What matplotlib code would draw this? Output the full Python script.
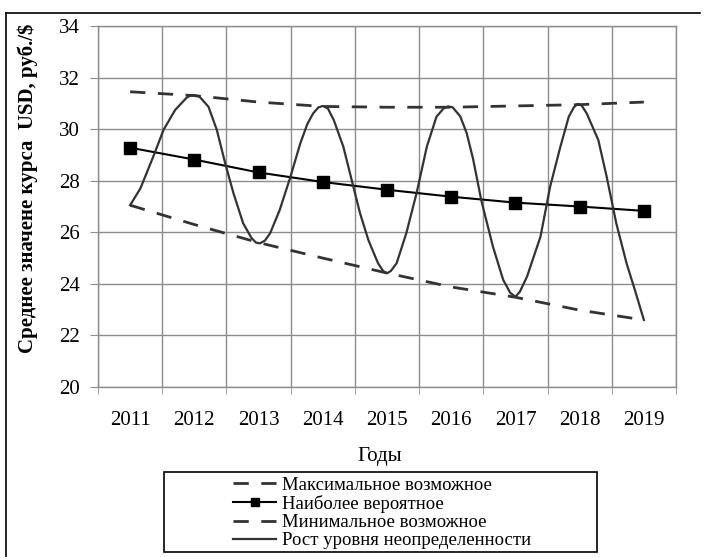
import matplotlib
matplotlib.use('Agg')
import matplotlib.pyplot as plt
from matplotlib.lines import Line2D
from matplotlib.patches import Rectangle
import numpy as np

plt.rcParams['font.family'] = ['Liberation Serif', 'DejaVu Serif']

# categories and series
years = ['2011', '2012', '2013', '2014', '2015', '2016', '2017', '2018', '2019']
max_possible = [31.45, 31.30, 31.05, 30.88, 30.85, 30.85, 30.90, 30.95, 31.05]
most_likely = [29.28, 28.82, 28.32, 27.95, 27.65, 27.38, 27.15, 27.00, 26.83]
min_possible = [27.05, 26.30, 25.60, 25.00, 24.42, 23.88, 23.48, 22.98, 22.60]

# "uncertainty growth" curve, sampled along the drawn line (year, value)
curve_years = [2011.00, 2011.16, 2011.36, 2011.52, 2011.70, 2011.88, 2011.94,
               2012.00, 2012.08, 2012.22, 2012.35, 2012.48, 2012.61, 2012.76,
               2012.89, 2012.96, 2013.02, 2013.10, 2013.18, 2013.33, 2013.49,
               2013.65, 2013.76, 2013.85, 2013.93, 2014.00, 2014.08, 2014.17,
               2014.32, 2014.45, 2014.58, 2014.71, 2014.86, 2014.94, 2015.00,
               2015.06, 2015.15, 2015.30, 2015.46, 2015.62, 2015.77, 2015.88,
               2015.95, 2016.02, 2016.14, 2016.24, 2016.34, 2016.47, 2016.65,
               2016.81, 2016.92, 2017.00, 2017.07, 2017.18, 2017.39, 2017.54,
               2017.70, 2017.83, 2017.91, 2017.97, 2018.03, 2018.11, 2018.29,
               2018.42, 2018.57, 2018.73, 2018.86, 2019.00]
curve_vals = [27.05, 27.70, 28.93, 29.97, 30.74, 31.22, 31.31,
              31.32, 31.26, 30.87, 29.97, 28.68, 27.51, 26.35,
              25.78, 25.60, 25.57, 25.68, 25.96, 26.87, 28.10,
              29.45, 30.20, 30.61, 30.84, 30.90, 30.80, 30.36,
              29.32, 28.03, 26.74, 25.70, 24.80, 24.50, 24.41,
              24.50, 24.80, 25.96, 27.51, 29.32, 30.48, 30.80,
              30.88, 30.85, 30.50, 29.85, 28.85, 27.22, 25.44,
              24.15, 23.65, 23.50, 23.70, 24.28, 25.83, 27.77,
              29.32, 30.48, 30.85, 30.98, 30.92, 30.61, 29.58,
              28.16, 26.35, 24.80, 23.76, 22.60]

W, H = 705, 557
fig = plt.figure(figsize=(W / 100, H / 100), dpi=100)
ax = fig.add_axes([98 / W, 1 - 387 / H, (676 - 98) / W, (387 - 26) / H])

x = np.arange(len(years))
cx = np.array(curve_years) - 2011

dash = (0, (5.5, 4.5))
dark = '#333333'
l_max, = ax.plot(x, max_possible, color=dark, lw=2, linestyle=dash)
l_ml, = ax.plot(x, most_likely, color='black', lw=1.5, marker='s',
                markersize=8, markerfacecolor='black')
l_min, = ax.plot(x, min_possible, color=dark, lw=2, linestyle=dash)
l_cur, = ax.plot(cx, curve_vals, color=dark, lw=1.6)

ax.set_xlim(-0.5, len(years) - 0.5)
ax.set_ylim(20, 34)
ax.set_yticks(np.arange(20, 35, 2))
ax.set_xticks(x)
ax.set_xticklabels(years)
ax.set_xticks(np.arange(-0.5, len(years), 1), minor=True)

grid_c = '#8c8c8c'
ax.grid(True, axis='y', which='major', color=grid_c, lw=1)
ax.grid(True, axis='x', which='minor', color=grid_c, lw=1)
ax.set_axisbelow(True)
for s in ax.spines.values():
    s.set_color(grid_c)
    s.set_linewidth(1)

ax.tick_params(axis='y', which='major', length=6, color=grid_c,
               labelsize=15, pad=7)
ax.tick_params(axis='x', which='major', length=0, labelsize=15, pad=17)
ax.tick_params(axis='x', which='minor', length=5, color=grid_c)

fig.text(380 / W, 1 - 457 / H, 'Годы', ha='center', va='center', fontsize=15)
fig.text(28 / W, 1 - 188 / H, 'Среднее значене курса  USD, руб./$',
         ha='center', va='center', rotation=90, fontsize=15,
         fontweight='bold')

# legend box drawn separately so the entries sit centered inside it
fig.add_artist(Rectangle((164 / W, 1 - 552 / H), (597 - 164) / W,
                         (552 - 472) / H, transform=fig.transFigure,
                         fill=False, edgecolor='black', lw=1.2))
fig.legend([l_max, l_ml, l_min, l_cur],
           ['Максимальное возможное', 'Наиболее вероятное',
            'Минимальное возможное', 'Рост уровня неопределенности'],
           loc='center', bbox_to_anchor=(382 / W, 1 - 513 / H),
           frameon=False, fontsize=13.5, handlelength=2.3,
           handletextpad=0.3, labelspacing=0.06, borderpad=0,
           markerscale=0.75)

# outer frame (left and top edges)
fig.add_artist(Line2D([6 / W, 6 / W], [0, 1 - 13 / H],
                      transform=fig.transFigure, color='black', lw=1.2))
fig.add_artist(Line2D([6 / W, 700 / W], [1 - 13 / H, 1 - 13 / H],
                      transform=fig.transFigure, color='black', lw=1.2))

fig.savefig('out.png', dpi=100)
